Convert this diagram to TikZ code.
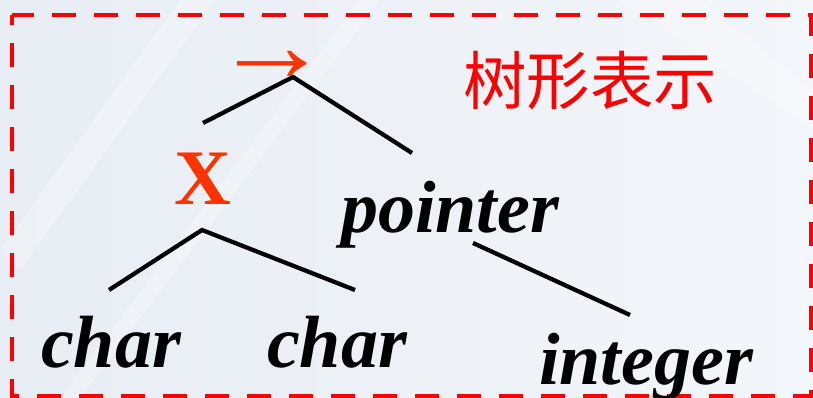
\documentclass[tikz,border=0pt]{standalone}
\usepackage{fontspec}
\setmainfont{Liberation Serif}
\newfontfamily\cjkfont{Noto Sans CJK SC}
\definecolor{bgl}{RGB}{232,237,244}
\definecolor{bgr}{RGB}{243,246,250}
\definecolor{bordred}{RGB}{255,0,0}
\definecolor{orred}{RGB}{255,51,0}
\tikzset{
  word/.style={anchor=base, inner sep=0pt, font=\fontsize{55.5}{60}\selectfont\bfseries\itshape, text=black},
  branch/.style={line width=3.2pt, black},
  frame/.style={draw=bordred, line width=3.6pt, dash pattern=on 18pt off 13.5pt, dash phase=10.5pt},
}
\begin{document}
\begin{tikzpicture}[x=0.75pt,y=-0.75pt]
\useasboundingbox (0,0) rectangle (813,398);
\shade[left color=bgl, right color=bgr] (0,0) rectangle (813,398);
\fill[white, opacity=0.3] (0,250) -- (180,0) -- (215,0) -- (20,270) -- cycle;
\fill[white, opacity=0.25] (60,398) -- (360,0) -- (380,0) -- (80,398) -- cycle;
\fill[white, opacity=0.25] (620,0) -- (700,0) -- (813,90) -- (813,130) -- cycle;
\draw[frame] (12,15) rectangle (811,396);
% labels
\node[anchor=base, inner sep=0pt, text height=0.4em, text depth=0pt, text=orred, font=\fontsize{80}{85}\selectfont, xscale=1.1] (arr) at (272,82) {→};
\node[inner sep=0pt, text=bordred, font=\cjkfont\fontsize{47.6}{50}\selectfont] (title) at (590,81) {树形表示};
\node[anchor=base, inner sep=0pt, text=orred, font=\fontsize{59}{62}\selectfont\bfseries] (x) at (203,205) {X};
\node[word] (ptr) at (450,233) {pointer};
\node[word] (c1) at (111,368) {char};
\node[word] (c2) at (337,368) {char};
\node[word] (int) at (646,385) {integer};
% branches
\coordinate (top) at (293,77);
\coordinate (tl) at (203,123);
\coordinate (tr) at (412,153);
\coordinate (xa) at (202,230);
\coordinate (xl) at (109,290);
\coordinate (xr) at (355,290);
\coordinate (pa) at (473,243);
\coordinate (pe) at (630,315);
\draw[branch] (tl) -- (top) -- (tr);
\draw[branch] (xl) -- (xa) -- (xr);
\draw[branch] (pa) -- (pe);
\end{tikzpicture}
\end{document}
